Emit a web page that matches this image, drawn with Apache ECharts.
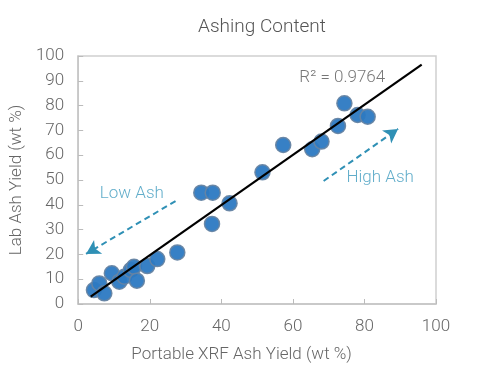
<!DOCTYPE html>
<html><head><meta charset="utf-8">
<script src="https://cdn.jsdelivr.net/npm/echarts@6/dist/echarts.min.js"></script>
<style>html,body{margin:0;padding:0;background:#fff}#c{width:480px;height:375px}</style>
</head><body><div id="c"></div>
<script>
var xrfAsh = [4.4, 5.9, 7.3, 9.4, 11.5, 12.9, 14.7, 15.6, 16.4, 19.3, 22.1, 27.7, 34.4, 37.6, 37.4, 42.3, 51.5, 57.3, 65.4, 68.0, 72.6, 74.4, 78.1, 80.9];
var labAsh = [5.6, 8.3, 4.3, 12.4, 9.0, 11.0, 13.7, 15.0, 9.4, 15.3, 18.1, 20.8, 44.9, 44.9, 32.3, 40.6, 53.1, 64.1, 62.4, 65.5, 71.8, 80.9, 76.2, 75.5];
var trendX = [3.5, 96];
var trendY = [3.0, 96.5];
var xTicks = [0, 20, 40, 60, 80, 100];
var yTicks = [0, 10, 20, 30, 40, 50, 60, 70, 80, 90, 100];
var lowArrow = [[27.2, 41.5], [2.2, 20.2]];
var highArrow = [[68.6, 49.6], [89.4, 70.6]];
var notes = [
  {name: 'Low Ash', pos: [15, 44.4]},
  {name: 'High Ash', pos: [84.4, 50.8]},
  {name: 'R² = 0.9764', pos: [73.8, 91.2]}
];

var FONT = 'Roboto';
var chart = echarts.init(document.getElementById('c'), null, {renderer: 'canvas'});
var pts = xrfAsh.map(function (x, i) { return [x, labAsh[i]]; });
var trend = trendX.map(function (x, i) { return [x, trendY[i]]; });
var teal = '#3a98bd';
chart.setOption({
  animation: false,
  backgroundColor: '#fff',
  title: {
    text: 'Ashing Content', left: 257, textAlign: 'center', top: 13,
    textStyle: {fontFamily: FONT, fontWeight: 300, fontSize: 19, color: '#555'}
  },
  grid: {left: 77, right: 44, top: 56, bottom: 71, show: true, borderColor: '#cfcfcf', borderWidth: 1.5},
  xAxis: {
    type: 'value', min: 0, max: 100, interval: 20,
    name: 'Portable XRF Ash Yield (wt %)', nameLocation: 'middle', nameGap: 42,
    nameTextStyle: {fontFamily: FONT, fontWeight: 300, fontSize: 17, color: '#666', padding: [0, 31, 0, 0]},
    axisLine: {show: true, lineStyle: {color: '#c4c4c4', width: 1.5}},
    axisTick: {show: true, inside: true, length: 5, lineStyle: {color: '#bbb'}},
    splitLine: {show: false},
    axisLabel: {fontFamily: FONT, fontWeight: 300, fontSize: 17, color: '#666', margin: 14,
      formatter: function (v) { return xTicks.indexOf(v) >= 0 ? String(v) : ''; }}
  },
  yAxis: {
    type: 'value', min: 0, max: 100, interval: 10,
    name: 'Lab Ash Yield (wt %)', nameLocation: 'middle', nameGap: 48,
    nameTextStyle: {fontFamily: FONT, fontWeight: 300, fontSize: 17, color: '#666'},
    axisLine: {show: true, lineStyle: {color: '#c4c4c4', width: 1.5}},
    axisTick: {show: true, inside: true, length: 5, lineStyle: {color: '#bbb'}},
    splitLine: {show: false},
    axisLabel: {fontFamily: FONT, fontWeight: 300, fontSize: 17, color: '#666', margin: 14,
      formatter: function (v) { return yTicks.indexOf(v) >= 0 ? String(v) : ''; }}
  },
  series: [
    {
      type: 'scatter', data: pts, symbolSize: 15, z: 2,
      itemStyle: {color: '#2c79c2', borderColor: '#6684a3', borderWidth: 1.5, opacity: 0.95}
    },
    {
      type: 'line', data: trend, symbol: 'none', z: 3,
      lineStyle: {color: '#000', width: 2.2}
    },
    {
      type: 'scatter', data: [], z: 4, silent: true,
      markLine: {
        silent: true, symbol: ['none', 'arrow'], symbolSize: [12, 14],
        lineStyle: {color: '#2f90b5', type: [6, 4], width: 2},
        label: {show: false},
        data: [
          [{coord: lowArrow[0]}, {coord: lowArrow[1]}],
          [{coord: highArrow[0]}, {coord: highArrow[1]}]
        ]
      }
    },
    {
      type: 'scatter', symbolSize: 0, z: 5, silent: true,
      data: notes.map(function (n, i) {
        return {value: n.pos, label: {show: true, position: 'inside', formatter: n.name,
          fontFamily: FONT, fontWeight: 300, fontSize: 17,
          color: i < 2 ? teal : '#555'}};
      })
    }
  ]
});
</script></body></html>
